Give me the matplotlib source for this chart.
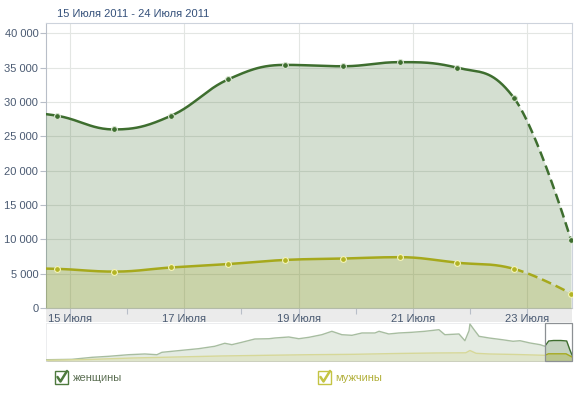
import numpy as np
import matplotlib
matplotlib.use('Agg')
import matplotlib.pyplot as plt
from matplotlib.patches import Rectangle
from matplotlib.lines import Line2D

plt.rcParams['font.family'] = ['Liberation Sans', 'DejaVu Sans']

# ---------------- data ----------------
title_text = "15 Июля 2011 - 24 Июля 2011"
days = [14, 15, 16, 17, 18, 19, 20, 21, 22, 23, 24]
women = [28800, 28000, 26000, 28000, 33300, 35400, 35200, 35800, 35000, 30600, 9900]
men = [5800, 5700, 5300, 5900, 6400, 7000, 7200, 7400, 6600, 5700, 2100]
tick_days = [15, 17, 19, 21, 23]
tick_labels = ["15 Июля", "17 Июля", "19 Июля", "21 Июля", "23 Июля"]
minor_days = [16, 18, 20, 22]
y_ticks = [0, 5000, 10000, 15000, 20000, 25000, 30000, 35000, 40000]
legend_labels = ["женщины", "мужчины"]

# navigator (overview) series, day relative to July
nav_women_days = [-154.1, -145.5, -138.7, -133.1, -126.3, -120.8, -116.7, -115.0, -108.2,
                  -102.6, -97.1, -93.7, -91.3, -87.9, -83.5, -78.7, -76.7, -72.0, -68.6,
                  -65.2, -60.8, -57.4, -54.0, -50.6, -47.2, -42.8, -41.4, -38.1, -34.7,
                  -30.3, -25.9, -21.1, -19.1, -14.3, -12.3, -10.9, -10.6, -9.2, -7.5,
                  -4.1, 0.4, 4.0, 6.4, 9.8, 13.2, 14.8, 16.1, 17.8, 20.2, 22.2, 23.3, 24.0]
nav_women = [2300, 3000, 6600, 8400, 11300, 12600, 11300, 15600, 19200,
             22100, 26400, 31800, 29300, 33600, 39500, 40000, 41300, 43100, 40000,
             42500, 47200, 53300, 47200, 46100, 50300, 50300, 53300, 48500, 50300,
             51500, 53300, 56200, 47200, 48500, 36400, 54400, 66400, 56200, 44300,
             41300, 38200, 35400, 36400, 32300, 29300, 26400, 35900, 36800, 36800, 35900, 19700, 10800]
nav_men_days = [-154, -140, -125, -110, -95, -80, -65, -50, -35, -22, -12, -10.6, -8.5,
                -4, 5, 14.8, 16, 22, 24]
nav_men = [1300, 2700, 5400, 7200, 9000, 10200, 11300, 12000, 13500, 14400, 14700, 18800, 13800,
           12600, 11700, 10200, 12900, 12900, 7200]

# ---------------- styling ----------------
W, H = 580, 394
C_W_LINE = '#3e6e2f'
C_M_LINE = '#a6a91c'
C_TEXT = '#4a5a72'
C_GRID = '#e3e6e3'


def fx(px):
    return px / W


def fy(py):
    return 1 - py / H


def hc_spline(xs, ys, smoothing=1.5):
    n = len(xs)
    segs = []
    rc = [None] * n
    for i in range(n):
        x, y = xs[i], ys[i]
        lc = (x, y)
        if 0 < i < n - 1:
            lx, ly = xs[i - 1], ys[i - 1]
            nx, ny = xs[i + 1], ys[i + 1]
            d = smoothing + 1
            lcx = (smoothing * x + lx) / d
            lcy = (smoothing * y + ly) / d
            rcx = (smoothing * x + nx) / d
            rcy = (smoothing * y + ny) / d
            corr = 0
            if rcx != lcx:
                corr = (rcy - lcy) * (rcx - x) / (rcx - lcx) + y - rcy
            lcy += corr
            rcy += corr
            if lcy > ly and lcy > y:
                lcy = max(ly, y); rcy = 2 * y - lcy
            elif lcy < ly and lcy < y:
                lcy = min(ly, y); rcy = 2 * y - lcy
            if rcy > ny and rcy > y:
                rcy = max(ny, y); lcy = 2 * y - rcy
            elif rcy < ny and rcy < y:
                rcy = min(ny, y); lcy = 2 * y - rcy
            lc = (lcx, lcy)
            rc[i] = (rcx, rcy)
        else:
            rc[i] = (x, y)
        if i > 0:
            p0 = np.array((xs[i - 1], ys[i - 1]), float)
            p1 = np.array(rc[i - 1], float)
            p2 = np.array(lc, float)
            p3 = np.array((x, y), float)
            t = np.linspace(0, 1, 40)[:, None]
            pts = ((1 - t) ** 3) * p0 + 3 * (1 - t) ** 2 * t * p1 + 3 * (1 - t) * t ** 2 * p2 + t ** 3 * p3
            segs.append(pts)
    return segs


fig = plt.figure(figsize=(W / 100, H / 100), dpi=100)
fig.patch.set_facecolor('white')

# ---------------- main chart ----------------
left_px, right_px, top_px, bot_px = 46, 572, 23, 308
ax = fig.add_axes([fx(left_px), fy(bot_px), fx(right_px - left_px), (bot_px - top_px) / H])
x_lo = 15 - 11 / 57.1
x_hi = 24 + 1 / 57.1
ax.set_xlim(x_lo, x_hi)
ax.set_ylim(0, 41500)
shift = 0.23

for yv in y_ticks[1:]:
    ax.axhline(yv, color=C_GRID, lw=0.8, zorder=1)
for d in tick_days:
    ax.axvline(d + shift, color=C_GRID, lw=0.8, zorder=1)

for vals, lc, fill_alpha, mfc, mec, z in [
        (women, C_W_LINE, 0.22, C_W_LINE, '#d8e4d0', 3),
        (men, C_M_LINE, 0.22, '#b3b426', '#f4f4b8', 4)]:
    segs = hc_spline(days, vals)
    allpts = np.vstack(segs)
    ax.fill_between(allpts[:, 0], 0, allpts[:, 1], color=lc, alpha=fill_alpha, lw=0, zorder=z)
    solid = np.vstack(segs[:-1])
    ax.plot(solid[:, 0], solid[:, 1], color=lc, lw=1.8, zorder=z + 2, solid_capstyle='round')
    ax.plot(segs[-1][:, 0], segs[-1][:, 1], color=lc, lw=1.8, zorder=z + 2, dashes=(4, 2))
    ax.plot(days, vals, ls='none', marker='o', ms=4.2, mfc=mfc, mec=mec, mew=0.8, zorder=z + 5)

ax.set_yticks(y_ticks)
ax.set_yticklabels([f"{v:,}".replace(",", " ") for v in y_ticks])
ax.set_xticks([d + shift for d in tick_days])
ax.set_xticklabels(tick_labels)
ax.set_xticks([d + shift for d in minor_days], minor=True)
ax.tick_params(axis='y', length=4, width=0.8, color='#b8bec8', labelsize=8, labelcolor=C_TEXT, pad=1.5)
ax.tick_params(axis='x', which='major', length=4, width=0.8, color='#b8bec8', labelsize=8,
               labelcolor=C_TEXT, pad=0.5)
ax.tick_params(axis='x', which='minor', length=4, width=0.8, color='#b8bec8')
for s in ['top', 'right']:
    ax.spines[s].set_color('#cdd3dc')
    ax.spines[s].set_linewidth(0.8)
ax.spines['left'].set_color('#b8bec8')
ax.spines['left'].set_linewidth(0.8)
ax.spines['bottom'].set_color('#c4c8cc')
ax.spines['bottom'].set_linewidth(0.8)

# gray label band
fig.add_artist(Rectangle((fx(left_px), fy(322)), fx(right_px - left_px), 14 / H,
                         transform=fig.transFigure, facecolor='#ebebeb', edgecolor='none', zorder=-1))

fig.text(fx(57), fy(14), title_text, fontsize=8, color='#34507a', va='center', ha='left')

# ---------------- navigator ----------------
nav_top, nav_bot = 323, 361
nax = fig.add_axes([fx(left_px), fy(nav_bot), fx(right_px - left_px), (nav_bot - nav_top) / H])
nav_lo = 24 - (right_px - left_px) / 2.95
nax.set_xlim(nav_lo, 24)
nax.set_ylim(0, (nav_bot - nav_top) * 1795)
nax.fill_between(nav_women_days, 0, nav_women, color=C_W_LINE, alpha=0.3, lw=0, zorder=2)
nax.plot(nav_women_days, nav_women, color=C_W_LINE, lw=1.0, zorder=4)
nax.fill_between(nav_men_days, 0, nav_men, color=C_M_LINE, alpha=0.3, lw=0, zorder=3)
nax.plot(nav_men_days, nav_men, color=C_M_LINE, lw=1.0, zorder=5)
nax.axvspan(nav_lo, x_lo, color='white', alpha=0.55, lw=0, zorder=6)
nax.add_patch(Rectangle((x_lo, 0), 24 - x_lo, (nav_bot - nav_top) * 1795, facecolor='none',
                        edgecolor='#8c9094', lw=0.9, zorder=7, clip_on=False))
nax.set_xticks([])
nax.set_yticks([])
for s in nax.spines.values():
    s.set_color('#d4d8dc')
    s.set_linewidth(0.7)

# ---------------- legend ----------------
for (bx, tx, col, tcol, label) in [(55, 73, '#4e7a3e', '#5b6e52', legend_labels[0]),
                                  (318, 335, '#c4c443', '#b2b03a', legend_labels[1])]:
    fig.add_artist(Rectangle((fx(bx), fy(384)), fx(13), 13 / H, transform=fig.transFigure,
                             facecolor='white', edgecolor=col, lw=1.0))
    fig.add_artist(Line2D([fx(bx + 2.5), fx(bx + 5.5), fx(bx + 12)],
                          [fy(377), fy(381.5), fy(371)], transform=fig.transFigure,
                          color=col, lw=1.8, solid_capstyle='round', solid_joinstyle='round'))
    fig.text(fx(tx), fy(378), label, fontsize=8, color=tcol, va='center', ha='left')

fig.savefig('out.png', dpi=100, facecolor='white')
